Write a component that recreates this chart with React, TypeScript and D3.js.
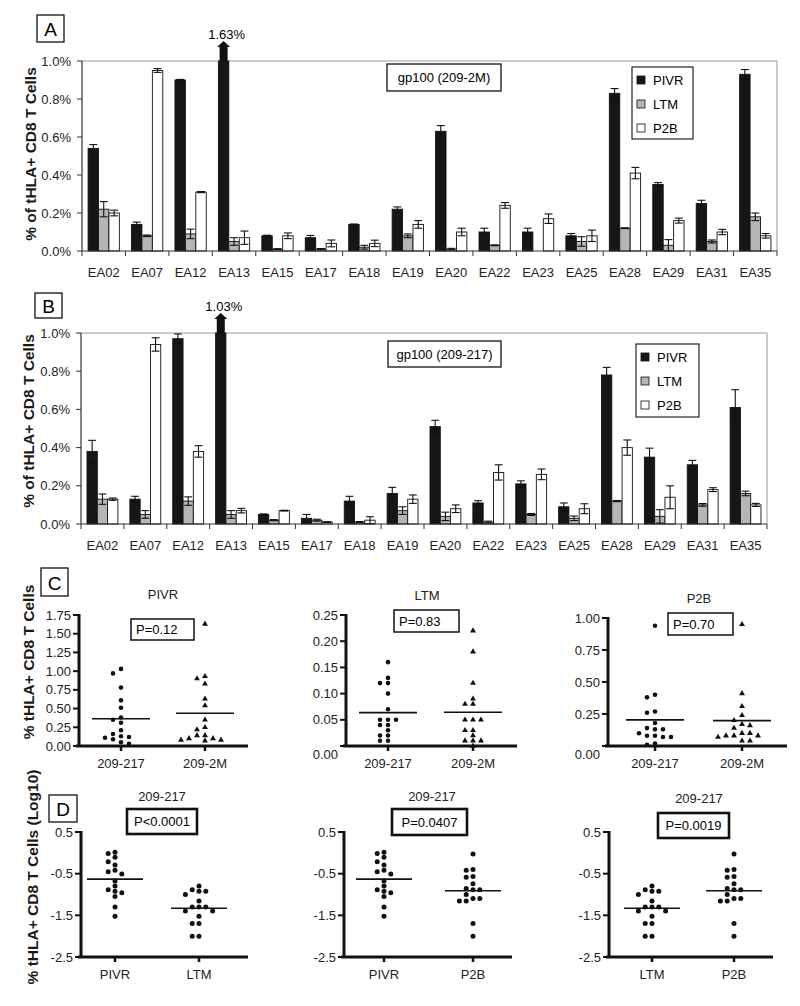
import React from 'react';
import * as d3 from 'd3';

const FONT = '"Liberation Sans", Arial, Helvetica, sans-serif';

const patients = ['EA02', 'EA07', 'EA12', 'EA13', 'EA15', 'EA17', 'EA18', 'EA19', 'EA20', 'EA22', 'EA23', 'EA25', 'EA28', 'EA29', 'EA31', 'EA35'];
const series = ['PIVR', 'LTM', 'P2B'];
const seriesFill = ['#161616', '#b5b5b5', '#ffffff'];

// panel A: gp100 (209-2M), % of tHLA+ CD8 T cells
const pivr2M = [0.54, 0.14, 0.90, 1.63, 0.08, 0.07, 0.14, 0.22, 0.63, 0.10, 0.10, 0.08, 0.83, 0.35, 0.25, 0.93];
const pivr2MErr = [0.02, 0.012, 0.003, 0, 0.003, 0.012, 0.002, 0.012, 0.03, 0.02, 0.02, 0.012, 0.025, 0.01, 0.017, 0.025];
const ltm2M = [0.22, 0.08, 0.09, 0.05, 0.01, 0.01, 0.02, 0.08, 0.01, 0.03, 0.00, 0.05, 0.12, 0.03, 0.05, 0.18];
const ltm2MErr = [0.04, 0.004, 0.025, 0.02, 0.002, 0.003, 0.01, 0.01, 0.004, 0.002, 0, 0.025, 0.002, 0.03, 0.008, 0.02];
const p2b2M = [0.20, 0.95, 0.31, 0.07, 0.08, 0.04, 0.04, 0.14, 0.10, 0.24, 0.17, 0.08, 0.41, 0.16, 0.10, 0.08];
const p2b2MErr = [0.015, 0.01, 0.003, 0.035, 0.015, 0.018, 0.017, 0.02, 0.02, 0.015, 0.025, 0.03, 0.03, 0.013, 0.014, 0.012];

// panel B: gp100 (209-217)
const pivr217 = [0.38, 0.13, 0.97, 1.03, 0.05, 0.03, 0.12, 0.16, 0.51, 0.11, 0.21, 0.09, 0.78, 0.35, 0.31, 0.61];
const pivr217Err = [0.058, 0.015, 0.025, 0, 0.003, 0.02, 0.025, 0.032, 0.033, 0.012, 0.016, 0.02, 0.04, 0.047, 0.023, 0.093];
const ltm217 = [0.13, 0.05, 0.12, 0.05, 0.02, 0.02, 0.01, 0.07, 0.04, 0.01, 0.05, 0.03, 0.12, 0.04, 0.10, 0.16];
const ltm217Err = [0.027, 0.02, 0.022, 0.02, 0.003, 0.005, 0.003, 0.02, 0.022, 0.005, 0.005, 0.012, 0.003, 0.035, 0.007, 0.012];
const p2b217 = [0.13, 0.94, 0.38, 0.07, 0.07, 0.01, 0.02, 0.13, 0.08, 0.27, 0.26, 0.08, 0.40, 0.14, 0.18, 0.10];
const p2b217Err = [0.006, 0.035, 0.03, 0.012, 0.002, 0.002, 0.018, 0.022, 0.02, 0.04, 0.028, 0.026, 0.04, 0.06, 0.01, 0.008];

const barTicks = [0, 0.2, 0.4, 0.6, 0.8, 1.0];
const log10 = (a: number[]) => a.map(v => Math.log10(v));

const LetterBox = ({ x, y, w, h, t }: any) => (
  <g>
    <rect x={x} y={y} width={w} height={h} fill="#fff" stroke="#111" strokeWidth={1.3} />
    <text x={x + w / 2} y={y + h / 2 + 1} textAnchor="middle" dominantBaseline="central" fontSize={19} fontFamily={FONT}>{t}</text>
  </g>
);

const YLabel = ({ x, y, t }: any) => (
  <text transform={`translate(${x},${y}) rotate(-90)`} textAnchor="middle" dominantBaseline="central"
    fontSize={15.5} fontWeight="bold" fontFamily={FONT} fill="#1a1a1a">{t}</text>
);

function BarPanel({ cfg, values, errors }: any) {
  const { left, right, top, bottom } = cfg;
  const x0 = d3.scaleBand<string>().domain(patients).range([left, right]).paddingInner(0.28).paddingOuter(0.14);
  const x1 = d3.scaleBand<string>().domain(series).range([0, x0.bandwidth()]);
  const y = d3.scaleLinear().domain([0, 1]).range([bottom, top]);
  const step = x0.step();
  const bw = x1.bandwidth();
  const fmt = (v: number) => v.toFixed(1) + '%';

  return (
    <g fontFamily={FONT}>
      <LetterBox {...cfg.letter} />
      <YLabel x={cfg.ylab[0]} y={cfg.ylab[1]} t="% of tHLA+ CD8 T Cells" />
      {/* frame */}
      <line x1={left} x2={right} y1={top} y2={top} stroke="#999" />
      <line x1={right} x2={right} y1={top} y2={bottom} stroke="#999" />
      {/* bars */}
      {series.map((s, si) => patients.map((p, pi) => {
        const v = values[si][pi];
        const e = errors[si][pi];
        const bx = (x0(p) as number) + (x1(s) as number);
        const yv = y(Math.min(v, 1));
        const cx = bx + bw / 2;
        const cap = bw * 0.38;
        return (
          <g key={s + p}>
            <rect x={bx} y={yv} width={bw} height={bottom - yv} fill={seriesFill[si]} stroke="#111" strokeWidth={0.9} />
            {e > 0 && v <= 1 && (
              <g stroke="#111" strokeWidth={1.1}>
                <line x1={cx} x2={cx} y1={y(v + e)} y2={y(Math.max(0, v - e))} />
                <line x1={cx - cap} x2={cx + cap} y1={y(v + e)} y2={y(v + e)} />
                <line x1={cx - cap} x2={cx + cap} y1={y(Math.max(0, v - e))} y2={y(Math.max(0, v - e))} />
              </g>
            )}
            {v > 1 && (
              <g>
                <path d={`M${cx - 4},${top} L${cx - 4},${top - 14} L${cx - 6.5},${top - 14} L${cx},${top - 20} L${cx + 6.5},${top - 14} L${cx + 4},${top - 14} L${cx + 4},${top} Z`} fill="#111" />
                <text x={cx + 3} y={top - 27} textAnchor="middle" dominantBaseline="central" fontSize={13}>{v.toFixed(2) + '%'}</text>
              </g>
            )}
          </g>
        );
      }))}
      {/* axes */}
      <line x1={left} x2={left} y1={top} y2={bottom} stroke="#333" strokeWidth={1.2} />
      <line x1={left} x2={right} y1={bottom} y2={bottom} stroke="#333" strokeWidth={1.2} />
      {barTicks.map(t => (
        <g key={t}>
          <line x1={left - 5} x2={left} y1={y(t)} y2={y(t)} stroke="#333" />
          <text x={left - 11} y={y(t)} textAnchor="end" dominantBaseline="central" fontSize={13} fill="#222">{fmt(t)}</text>
        </g>
      ))}
      {d3.range(patients.length + 1).map(i => (
        <line key={i} x1={left + i * step} x2={left + i * step} y1={bottom} y2={bottom + 5} stroke="#333" />
      ))}
      {patients.map(p => (
        <text key={p} x={(x0(p) as number) + x0.bandwidth() / 2} y={bottom + 21} textAnchor="middle" dominantBaseline="central" fontSize={13} fill="#222">{p}</text>
      ))}
      {/* peptide box */}
      <rect x={cfg.pep[0]} y={cfg.pep[1]} width={cfg.pep[2]} height={cfg.pep[3]} fill="#fff" stroke="#111" strokeWidth={1.3} />
      <text x={cfg.pep[0] + cfg.pep[2] / 2} y={cfg.pep[1] + cfg.pep[3] / 2} textAnchor="middle" dominantBaseline="central" fontSize={13}>{cfg.peptide}</text>
      {/* legend */}
      <rect x={cfg.leg[0]} y={cfg.leg[1]} width={cfg.leg[2]} height={cfg.leg[3]} fill="#fff" stroke="#111" strokeWidth={1.1} />
      {series.map((s, i) => {
        const ly = cfg.leg[1] + 13 + i * 24;
        return (
          <g key={s}>
            <rect x={cfg.leg[0] + 5} y={ly - 4} width={8} height={8} fill={seriesFill[i]} stroke="#111" strokeWidth={0.8} />
            <text x={cfg.leg[0] + 21} y={ly} dominantBaseline="central" fontSize={13}>{s}</text>
          </g>
        );
      })}
    </g>
  );
}

function swarm(vals: number[], y: (v: number) => number, cx: number, step: number, minDy: number) {
  const order = d3.range(vals.length).sort((a, b) => vals[b] - vals[a]);
  const placed: { x: number; y: number }[] = [];
  const out: { x: number; y: number }[] = new Array(vals.length);
  order.forEach(i => {
    const py = y(vals[i]);
    for (let k = 0; k < 40; k++) {
      const n = Math.ceil(k / 2);
      const px = cx + (k === 0 ? 0 : (k % 2 === 1 ? -n : n) * step);
      if (placed.every(p => Math.abs(p.x - px) > step * 0.5 || Math.abs(p.y - py) >= minDy)) {
        placed.push({ x: px, y: py });
        out[i] = { x: px, y: py };
        break;
      }
    }
  });
  return out;
}

function ScatterPanel({ cfg, cats, groups, markers }: any) {
  const { axisX, xEnd, top, bottom } = cfg;
  const y = d3.scaleLinear().domain(cfg.domain).range([bottom, top]);
  const x = d3.scalePoint<string>().domain(cats).range(cfg.catX);
  const r = cfg.r;
  const tri = d3.symbol().type(d3.symbolTriangle).size(cfg.triSize)();
  return (
    <g fontFamily={FONT}>
      <text x={cfg.title[0]} y={cfg.title[1]} textAnchor="middle" dominantBaseline="central" fontSize={13} fill="#222">{cfg.titleText}</text>
      <rect x={cfg.pbox[0]} y={cfg.pbox[1]} width={cfg.pbox[2]} height={cfg.pbox[3]} fill="#fff" stroke="#111" strokeWidth={cfg.thick ? 2.6 : 1.5} />
      <text x={cfg.thick ? cfg.pbox[0] + cfg.pbox[2] / 2 : cfg.pbox[0] + 5} y={cfg.pbox[1] + cfg.pbox[3] / 2}
        textAnchor={cfg.thick ? 'middle' : 'start'} dominantBaseline="central" fontSize={13}>{cfg.pText}</text>
      {/* y axis */}
      <line x1={axisX} x2={axisX} y1={top - 1} y2={bottom} stroke="#111" strokeWidth={3} />
      {cfg.ticks.map((t: number) => (
        <g key={t}>
          <line x1={axisX - 6} x2={axisX} y1={y(t)} y2={y(t)} stroke="#111" strokeWidth={2} />
          <text x={axisX - 8} y={y(t) + (t === 0 ? cfg.zeroDrop : 0)} textAnchor="end" dominantBaseline="central" fontSize={13} fill="#222">{cfg.fmt(t)}</text>
        </g>
      ))}
      {/* x axis */}
      <line x1={axisX - 3} x2={xEnd} y1={bottom} y2={bottom} stroke="#111" strokeWidth={3} />
      {cats.map((c: string) => (
        <g key={c}>
          <line x1={x(c)} x2={x(c)} y1={bottom} y2={bottom + 5} stroke="#111" strokeWidth={2.5} />
          <text x={x(c)} y={bottom + cfg.labDy} textAnchor="middle" dominantBaseline="central" fontSize={13} fill="#222">{c}</text>
        </g>
      ))}
      {groups.map((vals: number[], gi: number) => {
        const cx = x(cats[gi]) as number;
        const pts = swarm(vals, y, cx, cfg.step, cfg.minDy);
        const m = d3.mean(vals) as number;
        return (
          <g key={gi}>
            {pts.map((p, i) => markers[gi] === 'circle'
              ? <circle key={i} cx={p.x} cy={p.y} r={r} fill="#111" />
              : <path key={i} d={tri as string} transform={`translate(${p.x},${p.y})`} fill="#111" />)}
            <line x1={cx - cfg.half} x2={cx + cfg.half} y1={y(m)} y2={y(m)} stroke="#111" strokeWidth={1.6} />
          </g>
        );
      })}
    </g>
  );
}

const f2 = (v: number) => v.toFixed(2);
const f1 = (v: number) => v.toFixed(1);
const cBase = { r: 2.3, triSize: 15, step: 8, minDy: 5.2, half: 29, fmt: f2, labDy: 17, thick: false };
const dBase = { r: 2.5, triSize: 15, step: 6.8, minDy: 4.8, half: 28, fmt: f1, labDy: 17, thick: true, zeroDrop: 0,
  domain: [-2.5, 0.5], ticks: [-2.5, -1.5, -0.5, 0.5], top: 832, bottom: 957, titleText: '209-217' };

export default function App() {
  const cfgA = { left: 82, right: 777, top: 61, bottom: 251, ylab: [30, 154], letter: { x: 37, y: 15, w: 27, h: 27, t: 'A' },
    pep: [387, 64, 114, 27], peptide: 'gp100 (209-2M)', leg: [632, 67, 61, 72] };
  const cfgB = { left: 81, right: 767, top: 333, bottom: 524, ylab: [28, 421], letter: { x: 35, y: 293, w: 27, h: 25, t: 'B' },
    pep: [388, 341, 113, 26], peptide: 'gp100 (209-217)', leg: [636, 344, 63, 73] };

  return (
    <svg width={800} height={1006} style={{ position: 'absolute', left: 0, top: 0, background: '#fff' }}>
      <rect width={800} height={1006} fill="#fff" />
      <BarPanel cfg={cfgA} values={[pivr2M, ltm2M, p2b2M]} errors={[pivr2MErr, ltm2MErr, p2b2MErr]} />
      <BarPanel cfg={cfgB} values={[pivr217, ltm217, p2b217]} errors={[pivr217Err, ltm217Err, p2b217Err]} />

      <LetterBox x={41} y={568} w={27} h={28} t="C" />
      <YLabel x={28} y={662} t="% tHLA+ CD8 T Cells" />
      <ScatterPanel cats={['209-217', '209-2M']} groups={[pivr217, pivr2M]} markers={['circle', 'triangle']}
        cfg={{ ...cBase, axisX: 79, xEnd: 248, top: 615, bottom: 746, domain: [0, 1.75], ticks: d3.range(0, 1.76, 0.25),
          catX: [121, 205], title: [163, 594], titleText: 'PIVR', pbox: [131, 619, 63, 21], pText: 'P=0.12', zeroDrop: 0 }} />
      <ScatterPanel cats={['209-217', '209-2M']} groups={[ltm217, ltm2M]} markers={['circle', 'triangle']}
        cfg={{ ...cBase, axisX: 346, xEnd: 517, top: 615, bottom: 746, domain: [0, 0.25], ticks: [0, 0.05, 0.10, 0.15, 0.20, 0.25],
          catX: [388, 473], title: [427, 595], titleText: 'LTM', pbox: [394, 610, 65, 22], pText: 'P=0.83', zeroDrop: 8 }} />
      <ScatterPanel cats={['209-217', '209-2M']} groups={[p2b217, p2b2M]} markers={['circle', 'triangle']}
        cfg={{ ...cBase, axisX: 608, xEnd: 787, top: 618, bottom: 746, domain: [0, 1], ticks: [0, 0.25, 0.5, 0.75, 1],
          catX: [655, 742], title: [699, 598], titleText: 'P2B', pbox: [668, 613, 65, 22], pText: 'P=0.70', zeroDrop: 8 }} />

      <LetterBox x={49} y={795} w={28} h={27} t="D" />
      <YLabel x={32} y={877} t="% tHLA+ CD8 T Cells (Log10)" />
      <ScatterPanel cats={['PIVR', 'LTM']} groups={[log10(pivr217), log10(ltm217)]} markers={['circle', 'circle']}
        cfg={{ ...dBase, axisX: 81, xEnd: 248, catX: [115, 199], title: [162, 796], pbox: [127, 809, 70, 25], pText: 'P<0.0001' }} />
      <ScatterPanel cats={['PIVR', 'P2B']} groups={[log10(pivr217), log10(p2b217)]} markers={['circle', 'circle']}
        cfg={{ ...dBase, axisX: 344, xEnd: 512, catX: [384, 473], title: [432, 796], pbox: [392, 809, 75, 26], pText: 'P=0.0407' }} />
      <ScatterPanel cats={['LTM', 'P2B']} groups={[log10(ltm217), log10(p2b217)]} markers={['circle', 'circle']}
        cfg={{ ...dBase, axisX: 609, xEnd: 773, catX: [652, 734], title: [699, 798], pbox: [658, 813, 71, 25], pText: 'P=0.0019' }} />
    </svg>
  );
}
